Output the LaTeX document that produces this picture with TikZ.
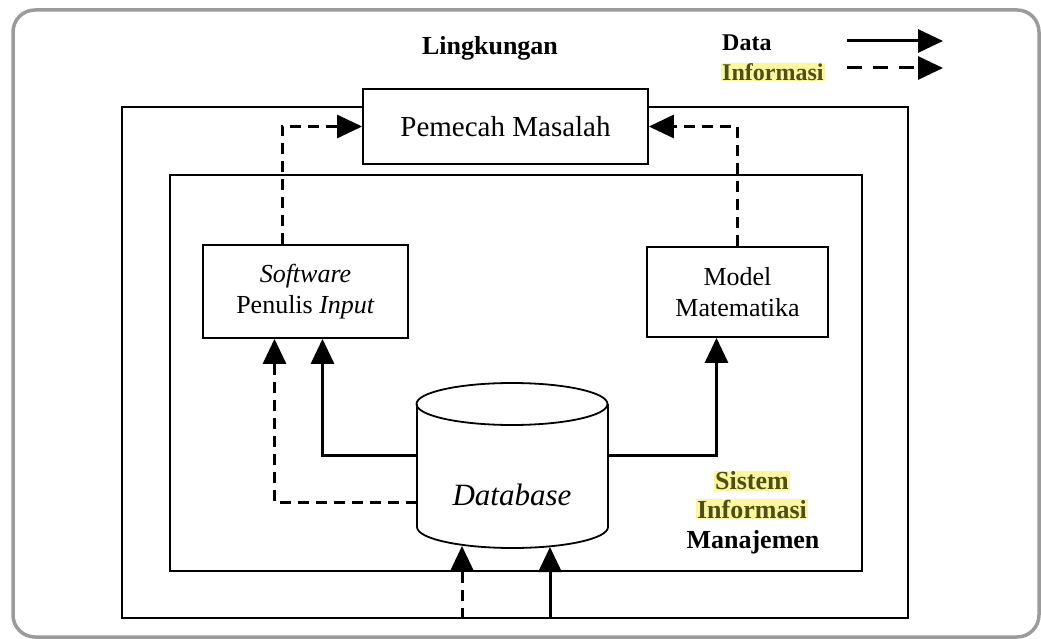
\documentclass[tikz,border=0pt]{standalone}
\usepackage{fontspec}
\setmainfont{Liberation Serif}
\usetikzlibrary{arrows.meta,positioning}
\definecolor{hilite}{RGB}{250,247,160}
\definecolor{olivetxt}{RGB}{78,78,22}
\definecolor{framegray}{RGB}{155,155,155}

\begin{document}
\begin{tikzpicture}[x=1pt,y=-1pt,
	box/.style={draw, line width=1.8pt, fill=white, inner sep=0pt, align=center, font=\fontsize{26}{31}\selectfont},
	dataflow/.style={line width=3pt, -{Triangle[length=25pt,width=23pt]}},
	infoflow/.style={dataflow, dash pattern=on 11pt off 7pt},
	lbl/.style={font=\bfseries\fontsize{26}{30}\selectfont, inner xsep=1pt, inner ysep=0.5pt},
	hl/.style={lbl, fill=hilite, text=olivetxt}]
	\useasboundingbox (0,0) rectangle (1041,639);
	\draw[framegray, line width=3.5pt, rounded corners=22pt] (13,10) rectangle (1039,637);

	\node[box, minimum width=786pt, minimum height=511pt] (env) at (515,362.5) {};
	\node[box, minimum width=692pt, minimum height=396pt] (sim) at (516,373) {};
	\node[box, minimum width=285pt, minimum height=75pt, font=\fontsize{29}{34}\selectfont] (pm) at (505.5,126.5) {Pemecah Masalah};
	\node[box, minimum width=205pt, minimum height=93pt] (sw) at (305.5,291.5) {\textit{Software}\\Penulis \textit{Input}};
	\node[box, minimum width=181pt, minimum height=90pt] (mm) at (737.5,292) {Model\\Matematika};
	\node[lbl] (envlbl) at (490,48) {Lingkungan};

	\draw[line width=1.8pt, fill=white] (417,404) -- (417,527) arc[start angle=180, end angle=360, x radius=95.5pt, y radius=21pt] -- (608,404);
	\draw[line width=1.8pt] (512,404) ellipse[x radius=95.5pt, y radius=21pt];
	\node[font=\itshape\fontsize{31}{36}\selectfont] (db) at (512,495) {Database};
	\coordinate (dbA) at (417,455);
	\coordinate (dbC) at (417,502);
	\coordinate (dbD) at (608,455);
	\coordinate (dbE) at (462,546);
	\coordinate (dbF) at (550,547);

	\draw[dataflow] (dbA) -| ([xshift=17pt]sw.south);
	\draw[infoflow] (dbC) -| ([xshift=-31pt]sw.south);
	\draw[dataflow] (dbD) -| ([xshift=-21pt]mm.south);
	\draw[infoflow] ([xshift=-23.5pt]sw.north) |- (pm.west);
	\draw[infoflow] (mm.north) |- (pm.east);
	\draw[infoflow] (env.south -| dbE) -- (dbE);
	\draw[dataflow] (env.south -| dbF) -- (dbF);

	\node[hl] (sisA) at (752,481) {Sistem};
	\node[hl] (sisB) at (752,509) {Informasi};
	\node[lbl] (sisC) at (753,542) {Manajemen};

	\node[lbl, font=\bfseries\fontsize{24}{28}\selectfont, anchor=west] (lgData) at (721,43) {Data};
	\node[hl, font=\bfseries\fontsize{24}{28}\selectfont, anchor=west] (lgInfo) at (721,72) {Informasi};
	\coordinate (lgA) at (847,41);
	\coordinate (lgB) at (943,41);
	\coordinate (lgC) at (847,68);
	\coordinate (lgD) at (943,68);
	\draw[dataflow] (lgA) -- (lgB);
	\draw[infoflow, dash pattern=on 15pt off 11pt] (lgC) -- (lgD);
\end{tikzpicture}
\end{document}
